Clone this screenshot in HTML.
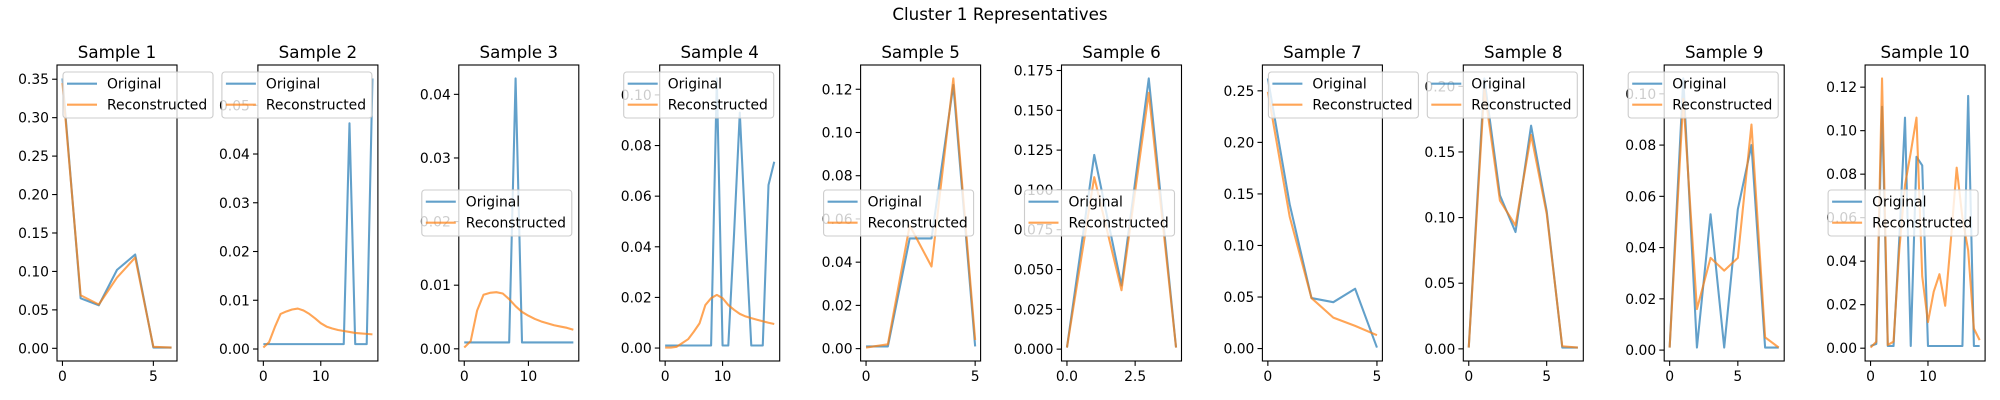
<!DOCTYPE html>
<html><head><meta charset="utf-8"><style>
html,body{margin:0;padding:0;background:#fff;}
svg{display:block;font-family:"DejaVu Sans","Liberation Sans",sans-serif;}
</style></head><body>
<svg id="chart" width="2000" height="400" viewBox="0 0 2000 400" xmlns="http://www.w3.org/2000/svg">
<rect width="2000" height="400" fill="#fff"/>
<text x="1000" y="20" text-anchor="middle" font-size="16.7" fill="#000">Cluster 1 Representatives</text>
</svg>
<script>
const sampleTitles = ["Sample 1","Sample 2","Sample 3","Sample 4","Sample 5","Sample 6","Sample 7","Sample 8","Sample 9","Sample 10"];
const original1 = [0.351,0.065,0.056,0.102,0.122,0.001,0.001];
const recon1 = [0.345,0.069,0.057,0.092,0.118,0.002,0.001];
const original2 = [0.001,0.001,0.001,0.001,0.001,0.001,0.001,0.001,0.001,0.001,0.001,0.001,0.001,0.001,0.001,0.0463,0.001,0.001,0.001,0.0555];
const recon2 = [0.0003,0.0014,0.0045,0.0072,0.0077,0.0081,0.0083,0.0079,0.0072,0.0063,0.0053,0.0046,0.0042,0.0039,0.0037,0.0035,0.0033,0.0032,0.0031,0.0030];
const original3 = [0.001,0.001,0.001,0.001,0.001,0.001,0.001,0.001,0.0425,0.001,0.001,0.001,0.001,0.001,0.001,0.001,0.001,0.001];
const recon3 = [0.0002,0.0012,0.006,0.0085,0.0088,0.0089,0.0087,0.0078,0.0067,0.0058,0.0052,0.0047,0.0043,0.0040,0.0037,0.0035,0.0033,0.0030];
const original4 = [0.001,0.001,0.001,0.001,0.001,0.001,0.001,0.001,0.001,0.1065,0.001,0.001,0.045,0.093,0.045,0.001,0.001,0.001,0.0644,0.0736];
const recon4 = [0.0002,0.0002,0.0005,0.002,0.0035,0.0065,0.0098,0.017,0.0197,0.021,0.0197,0.017,0.0151,0.0135,0.0125,0.0118,0.0112,0.0106,0.010,0.0095];
const original5 = [0.001,0.001,0.051,0.051,0.122,0.001];
const recon5 = [0.0005,0.002,0.057,0.038,0.125,0.004];
const original6 = [0.001,0.122,0.040,0.170,0.001];
const recon6 = [0.001,0.108,0.037,0.161,0.001];
const original7 = [0.262,0.140,0.049,0.045,0.058,0.001];
const recon7 = [0.249,0.128,0.049,0.030,0.022,0.013];
const original8 = [0.001,0.206,0.117,0.089,0.170,0.105,0.001,0.001];
const recon8 = [0.001,0.198,0.113,0.094,0.163,0.103,0.002,0.001];
const original9 = [0.001,0.106,0.001,0.053,0.001,0.055,0.080,0.001,0.001];
const recon9 = [0.001,0.098,0.016,0.036,0.031,0.036,0.088,0.005,0.001];
const original10 = [0.001,0.002,0.111,0.001,0.001,0.050,0.106,0.001,0.088,0.084,0.001,0.001,0.001,0.001,0.001,0.001,0.001,0.116,0.001,0.001];
const recon10 = [0.0003,0.003,0.124,0.0015,0.003,0.045,0.075,0.090,0.106,0.033,0.012,0.026,0.034,0.0195,0.050,0.083,0.060,0.045,0.009,0.0037];
const yTickLabels1 = ["0.00","0.05","0.10","0.15","0.20","0.25","0.30","0.35"];
const yTickLabels2 = ["0.00","0.01","0.02","0.03","0.04","0.05"];
const yTickLabels3 = ["0.00","0.01","0.02","0.03","0.04"];
const yTickLabels4 = ["0.00","0.02","0.04","0.06","0.08","0.10"];
const yTickLabels5 = ["0.00","0.02","0.04","0.06","0.08","0.10","0.12"];
const yTickLabels6 = ["0.000","0.025","0.050","0.075","0.100","0.125","0.150","0.175"];
const yTickLabels7 = ["0.00","0.05","0.10","0.15","0.20","0.25"];
const yTickLabels8 = ["0.00","0.05","0.10","0.15","0.20"];
const yTickLabels9 = ["0.00","0.02","0.04","0.06","0.08","0.10"];
const yTickLabels10 = ["0.00","0.02","0.04","0.06","0.08","0.10","0.12"];
const xTickLabels1 = ["0","5"];
const xTickLabels2 = ["0","10"];
const xTickLabels3 = ["0","10"];
const xTickLabels4 = ["0","10"];
const xTickLabels5 = ["0","5"];
const xTickLabels6 = ["0.0","2.5"];
const xTickLabels7 = ["0","5"];
const xTickLabels8 = ["0","5"];
const xTickLabels9 = ["0","5"];
const xTickLabels10 = ["0","10"];
const legendLocs = ["ul","ur","cr","ur","cr","cr","ul","ur","ur","cr"];

const originals=[original1,original2,original3,original4,original5,original6,original7,original8,original9,original10];
const recons=[recon1,recon2,recon3,recon4,recon5,recon6,recon7,recon8,recon9,recon10];
const yTicks=[yTickLabels1,yTickLabels2,yTickLabels3,yTickLabels4,yTickLabels5,yTickLabels6,yTickLabels7,yTickLabels8,yTickLabels9,yTickLabels10];
const xTicks=[xTickLabels1,xTickLabels2,xTickLabels3,xTickLabels4,xTickLabels5,xTickLabels6,xTickLabels7,xTickLabels8,xTickLabels9,xTickLabels10];

const NS="http://www.w3.org/2000/svg";
const svg=document.getElementById('chart');
function mk(tag,attrs,parent){const e=document.createElementNS(NS,tag);for(const k in attrs)e.setAttribute(k,attrs[k]);(parent||svg).appendChild(e);return e;}
const TOP=65,BOT=361,W=120;
const defs=mk('defs',{});
for(let i=0;i<10;i++){
  const L=57+i*200.9,R=L+W;
  const o=originals[i],r=recons[i];
  const n=Math.max(o.length,r.length);
  const all=o.concat(r);
  const mn=Math.min(...all),mx=Math.max(...all);
  const y0=mn-0.05*(mx-mn),y1=mx+0.05*(mx-mn);
  const x0=-0.05*(n-1),x1=(n-1)*1.05;
  const sx=v=>L+(v-x0)/(x1-x0)*W;
  const sy=v=>BOT-(v-y0)/(y1-y0)*(BOT-TOP);
  const g=mk('g',{});
  
  
  const cp=mk('clipPath',{id:'clip'+i},defs);
  mk('rect',{x:L,y:TOP,width:W,height:BOT-TOP},cp);
  const t=mk('text',{x:(L+R)/2,y:58,'text-anchor':'middle','font-size':16.7,fill:'#000'},g);
  t.textContent=sampleTitles[i];
  
  
  // y ticks
  yTicks[i].forEach(lbl=>{
    const v=parseFloat(lbl),y=sy(v);
    if(y<TOP-1||y>BOT+1)return;
    mk('line',{x1:L-4.9,x2:L,y1:y,y2:y,stroke:'#000','stroke-width':1.1},g);
    const tt=mk('text',{x:L-8,y:y+5,'text-anchor':'end','font-size':13.9,fill:'#000'},g);
    tt.textContent=lbl;
    
    
  });
  xTicks[i].forEach(lbl=>{
    const v=parseFloat(lbl),x=sx(v);
    mk('line',{x1:x,x2:x,y1:BOT,y2:BOT+4.9,stroke:'#000','stroke-width':1.1},g);
    const tt=mk('text',{x:x,y:BOT+20,'text-anchor':'middle','font-size':13.9,fill:'#000'},g);
    tt.textContent=lbl;
    
    
  });
  const series=[[o,'#1f77b4','original-line'],[r,'#ff7f0e','reconstructed-line']];
  series.forEach(([arr,col,nm])=>{
    const d=arr.map((v,k)=>(k?'L':'M')+sx(k).toFixed(2)+','+sy(v).toFixed(2)).join('');
    const p=mk('path',{d:d,fill:'none',stroke:col,'stroke-width':2.08,'stroke-opacity':0.7,'stroke-linejoin':'round','clip-path':'url(#clip'+i+')'},g);
    
    
  });
  mk('rect',{x:L,y:TOP,width:W,height:BOT-TOP,fill:'none',stroke:'#000','stroke-width':1.1},g);
  // legend
  const loc=legendLocs[i];
  const lw=150,lh=46;
  const lx=loc==='ul'?L+6:(loc==='ur'?R-6-lw:R-7-lw);
  const ly=loc==='cr'?(TOP+BOT)/2-lh/2:TOP+7;
  const lg=mk('g',{},g);
  
  
  mk('rect',{x:lx,y:ly,width:lw,height:lh,rx:3,fill:'#fff','fill-opacity':0.8,stroke:'#ccc','stroke-width':1.1},lg);
  [['Original','#1f77b4',11.7],['Reconstructed','#ff7f0e',32.7]].forEach(([lbl,col,dy])=>{
    mk('line',{x1:lx+4,x2:lx+34,y1:ly+dy,y2:ly+dy,stroke:col,'stroke-width':2.08,'stroke-opacity':0.7},lg);
    const tt=mk('text',{x:lx+44,y:ly+dy+5,'font-size':13.9,fill:'#000'},lg);
    tt.textContent=lbl;
    
    
  });
}
</script>
</body></html>
